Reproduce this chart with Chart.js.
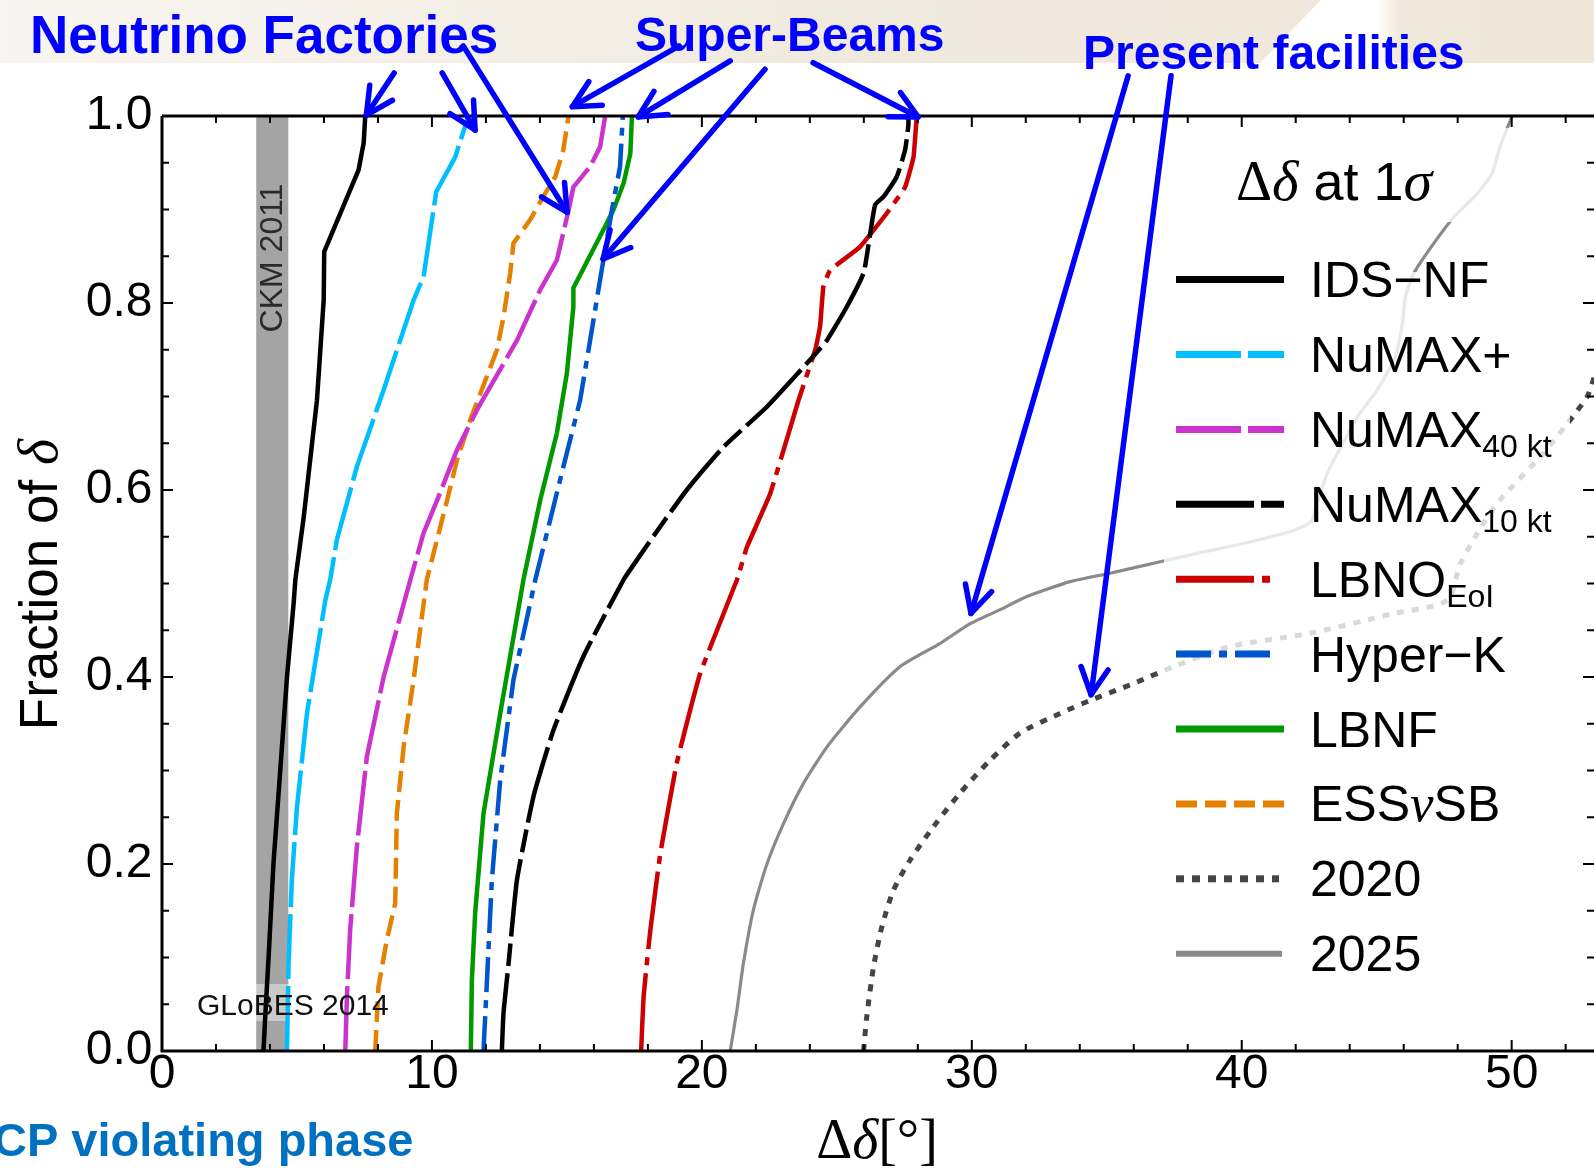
<!DOCTYPE html>
<html><head><meta charset="utf-8">
<script src="https://cdn.jsdelivr.net/npm/chart.js@4.4.1/dist/chart.umd.min.js"></script>
<style>html,body{margin:0;padding:0;background:#fff;overflow:hidden}canvas{display:block}</style>
</head><body>
<canvas id="c" width="1594" height="1168" style="width:1594px;height:1168px"></canvas>
<script>
// ---------------- data ----------------
const idsnfX = [3.76, 3.83, 3.95, 4.13, 4.38, 4.63, 4.88, 4.94, 5.25, 5.74, 5.99, 6.01, 7.28, 7.47, 7.53];
const idsnfY = [0, 0.04, 0.101, 0.201, 0.300, 0.400, 0.48, 0.504, 0.571, 0.696, 0.803, 0.855, 0.942, 0.971, 1.0];

const numaxPlusX = [4.63, 4.69, 4.81, 5.0, 5.37, 6.05, 6.23, 6.48, 7.22, 8.21, 9.32, 9.69, 10.06, 10.16, 10.86, 11.35];
const numaxPlusY = [0, 0.094, 0.183, 0.261, 0.361, 0.482, 0.504, 0.547, 0.625, 0.707, 0.803, 0.828, 0.9, 0.919, 0.956, 1.0];

const numax40X = [6.79, 6.85, 6.97, 7.22, 7.59, 8.21, 9.2, 9.69, 10.19, 10.93, 11.73, 12.65, 13.15, 14.01, 14.63, 15.06, 15.24, 15.86, 16.23, 16.42];
const numax40Y = [0, 0.058, 0.129, 0.219, 0.315, 0.4, 0.504, 0.554, 0.589, 0.643, 0.689, 0.735, 0.760, 0.814, 0.846, 0.899, 0.924, 0.946, 0.967, 1.0];

const numax10X = [12.59, 12.65, 12.84, 13.15, 13.76, 14.5, 15.61, 17.1, 17.59, 18.46, 19.44, 20.8, 22.41, 24.13, 24.63, 25.37, 25.99, 26.2, 26.42, 26.74, 27.22, 27.53, 27.65, 27.65];
const numax10Y = [0, 0.04, 0.094, 0.183, 0.272, 0.343, 0.422, 0.504, 0.525, 0.561, 0.6, 0.646, 0.689, 0.743, 0.760, 0.796, 0.832, 0.867, 0.905, 0.914, 0.935, 0.964, 0.99, 1.0];

const lbnoX = [17.75, 17.84, 18.09, 18.46, 19.07, 19.94, 21.3, 21.67, 22.53, 23.58, 24.2, 24.38, 24.5, 24.75, 25.86, 26.85, 27.53, 27.84, 27.96];
const lbnoY = [0, 0.058, 0.129, 0.211, 0.308, 0.404, 0.504, 0.539, 0.596, 0.696, 0.75, 0.775, 0.817, 0.835, 0.86, 0.896, 0.924, 0.956, 1.0];

const hyperkX = [11.91, 12.04, 12.22, 12.53, 13.02, 13.83, 14.26, 14.87, 15.49, 15.86, 16.23, 16.67, 16.97, 17.07];
const hyperkY = [0, 0.076, 0.183, 0.29, 0.397, 0.504, 0.554, 0.625, 0.696, 0.760, 0.825, 0.9, 0.946, 1.0];

const lbnfX = [11.44, 11.48, 11.6, 11.91, 12.53, 13.39, 14.01, 14.63, 15.0, 15.24, 15.24, 16.42, 16.73, 17.1, 17.35, 17.41];
const lbnfY = [0, 0.076, 0.147, 0.254, 0.361, 0.504, 0.589, 0.661, 0.725, 0.796, 0.816, 0.882, 0.9, 0.928, 0.96, 1.0];

const esssbX = [7.9, 8.02, 8.33, 8.64, 8.7, 8.95, 9.32, 9.81, 10.19, 10.56, 10.93, 11.42, 11.79, 12.41, 12.65, 12.9, 13.02, 13.64, 14.13, 14.57, 14.87, 15.06];
const esssbY = [0, 0.069, 0.119, 0.158, 0.254, 0.325, 0.397, 0.504, 0.547, 0.589, 0.632, 0.675, 0.703, 0.75, 0.785, 0.832, 0.864, 0.889, 0.914, 0.935, 0.964, 1.0];

const y2020X = [25.99, 26.11, 26.36, 26.67, 27.1, 27.71, 28.58, 29.57, 30.68, 31.79, 33.27, 34.39, 35.99, 37.47, 39.47, 42.56, 45.64, 47.61, 48.11, 48.97, 49.59, 51.07, 52.06, 52.8, 53.05];
const y2020Y = [0, 0.037, 0.09, 0.133, 0.172, 0.204, 0.24, 0.276, 0.311, 0.34, 0.361, 0.375, 0.393, 0.411, 0.432, 0.447, 0.468, 0.482, 0.522, 0.565, 0.59, 0.636, 0.671, 0.70, 0.72];

const y2025X = [21.05, 21.3, 21.54, 21.91, 22.41, 23.02, 23.76, 24.63, 25.86, 27.34, 28.83, 29.94, 31.05, 32.04, 33.64, 35.12, 37.1, 38.47, 40.09, 41.94, 42.56, 42.8, 43.17, 43.67, 44.28, 45.02, 45.7, 45.95, 46.07, 46.38, 47.12, 47.86, 48.73, 49.28, 49.53, 49.78, 50.02];
const y2025Y = [0, 0.044, 0.094, 0.151, 0.2, 0.243, 0.286, 0.325, 0.368, 0.411, 0.436, 0.457, 0.472, 0.486, 0.502, 0.511, 0.524, 0.533, 0.543, 0.557, 0.566, 0.586, 0.618, 0.646, 0.678, 0.707, 0.743, 0.778, 0.807, 0.832, 0.864, 0.892, 0.917, 0.939, 0.964, 0.983, 1.0];

const seriesLabels = ['IDS−NF', 'NuMAX+', 'NuMAX 40 kt', 'NuMAX 10 kt', 'LBNO EoI', 'Hyper−K', 'LBNF', 'ESSνSB', '2020', '2025'];
const legendMain = ['IDS−NF', 'NuMAX+', 'NuMAX', 'NuMAX', 'LBNO', 'Hyper−K', 'LBNF', 'ESSνSB', '2020', '2025'];
const legendSub  = ['', '', '40 kt', '10 kt', 'EoI', '', '', '', '', ''];

const xMin = 0, xMax = 53.05, yMin = 0, yMax = 1;
const xMinorStep = 2, xMajorStep = 10, yMinorStep = 0.05, yMajorStep = 0.2;
const ckmBand = [3.49, 4.68];
// arrows: [tailX, tailY, tipX, tipY] in data units
const arrowsData = [
  [8.60, 1.046, 7.57, 1.001], [10.38, 1.046, 11.60, 0.985], [11.16, 1.075, 15.01, 0.897],
  [19.16, 1.075, 15.20, 1.010], [21.05, 1.059, 17.64, 0.999], [22.34, 1.050, 16.34, 0.847],
  [24.12, 1.057, 28.01, 0.999], [35.79, 1.043, 29.97, 0.468], [37.38, 1.043, 34.42, 0.381]
];

// ---------------- styles ----------------
const SANS = '"Liberation Sans", Arial, Helvetica, sans-serif';
const SERIF = '"Liberation Serif", "Times New Roman", serif';
const styles = [
  {color:'#000000', width:4.5, dash:[], tension:0},
  {color:'#00BFFF', width:4.5, dash:[65,7], tension:0},
  {color:'#CC33CC', width:4.5, dash:[65,7], tension:0},
  {color:'#000000', width:4.5, dash:[78,7,23,7], tension:0.15},
  {color:'#CC0000', width:4.5, dash:[78,8,8,8], tension:0.1},
  {color:'#0055CC', width:4.5, dash:[35,8,8,8], tension:0},
  {color:'#009900', width:4.5, dash:[], tension:0},
  {color:'#E68000', width:4.5, dash:[21,8], tension:0},
  {color:'#444444', width:5, dash:[7,8], tension:0.25},
  {color:'#8A8A8A', width:3.2, dash:[], tension:0.2}
];
const legendSampleEnd = [1284,1284,1284,1284,1271,1271,1284,1284,1279,1282];

function pts(xs, ys){ return xs.map((x,i)=>({x:x, y:ys[i]})); }
const seriesData = [
  pts(idsnfX, idsnfY), pts(numaxPlusX, numaxPlusY), pts(numax40X, numax40Y), pts(numax10X, numax10Y),
  pts(lbnoX, lbnoY), pts(hyperkX, hyperkY), pts(lbnfX, lbnfY), pts(esssbX, esssbY),
  pts(y2020X, y2020Y), pts(y2025X, y2025Y)
];

const datasets = seriesData.map((d,i)=>({
  label: seriesLabels[i], data: d, borderColor: styles[i].color, backgroundColor: styles[i].color,
  borderWidth: styles[i].width, borderDash: styles[i].dash, borderCapStyle:'butt', borderJoinStyle:'round',
  pointRadius:0, pointHoverRadius:0, fill:false, tension:styles[i].tension, showLine:true
}));

// ---------------- helpers ----------------
function richWidth(ctx, segs){ let w=0; for(const s of segs){ ctx.font=s.f; w+=ctx.measureText(s.t).width; } return w; }
function drawRich(ctx, segs, x, y, align){
  let cx = x; const w = richWidth(ctx, segs);
  if (align==='center') cx = x - w/2;
  ctx.textAlign='left'; ctx.textBaseline='alphabetic';
  for(const s of segs){ ctx.font=s.f; ctx.fillText(s.t, cx, y + (s.dy||0)); cx += ctx.measureText(s.t).width; }
}
function arrow(ctx, x1,y1,x2,y2){
  ctx.beginPath(); ctx.moveTo(x1,y1); ctx.lineTo(x2,y2); ctx.stroke();
  const ang = Math.atan2(y1-y2, x1-x2), L=30, h=0.47;
  ctx.beginPath();
  ctx.moveTo(x2 + L*Math.cos(ang+h), y2 + L*Math.sin(ang+h));
  ctx.lineTo(x2,y2);
  ctx.lineTo(x2 + L*Math.cos(ang-h), y2 + L*Math.sin(ang-h));
  ctx.stroke();
}

const decor = {
  id:'decor',
  beforeDraw(chart){
    const ctx = chart.ctx; const W = chart.width;
    ctx.save();
    ctx.fillStyle='#ffffff'; ctx.fillRect(0,0,W,chart.height);
    const g = ctx.createLinearGradient(0,0,W,0);
    g.addColorStop(0,'#f8f6f2'); g.addColorStop(0.55,'#f0e9dd'); g.addColorStop(1,'#efe7da');
    ctx.fillStyle=g; ctx.fillRect(0,0,W,63);
    const g2 = ctx.createLinearGradient(1340,0,1400,0);
    g2.addColorStop(0,'#ffffff'); g2.addColorStop(0.6,'#ffffff'); g2.addColorStop(1,'rgba(255,255,255,0)');
    ctx.fillStyle=g2;
    ctx.beginPath(); ctx.moveTo(1260,63); ctx.lineTo(1321,0); ctx.lineTo(1400,0); ctx.lineTo(1400,63); ctx.closePath(); ctx.fill();
    ctx.restore();
  },
  beforeDatasetsDraw(chart){
    const {ctx, chartArea:a, scales:{x}} = chart;
    ctx.save();
    const x1 = x.getPixelForValue(ckmBand[0]), x2 = x.getPixelForValue(ckmBand[1]);
    ctx.fillStyle='#a4a4a4'; ctx.fillRect(x1, a.top, x2-x1, a.bottom-a.top);
    ctx.fillStyle='rgba(255,255,255,0.42)'; ctx.fillRect(192, 984, 200, 37);
    ctx.restore();
  },
  afterDatasetsDraw(chart){
    const {ctx, chartArea:a, scales:{x, y}} = chart;
    ctx.save();
    // CKM label
    ctx.save();
    ctx.translate((x.getPixelForValue(ckmBand[0])+x.getPixelForValue(ckmBand[1]))/2 + 1, 258);
    ctx.rotate(-Math.PI/2);
    ctx.fillStyle='#2a2a2a'; ctx.font='32px '+SANS; ctx.textAlign='center'; ctx.textBaseline='middle';
    ctx.fillText('CKM 2011', 0, 0);
    ctx.restore();
    // GLoBES label
    ctx.fillStyle='#111'; ctx.font='30px '+SANS; ctx.textAlign='left'; ctx.textBaseline='alphabetic';
    ctx.fillText('GLoBES 2014', 197, 1015);
    // legend translucent boxes
    ctx.fillStyle='rgba(255,255,255,0.8)';
    ctx.fillRect(1164, 128, 406, 94);
    ctx.fillRect(1164, 272, 406, 715);
    // legend title
    ctx.fillStyle='#000';
    drawRich(ctx, [{t:'Δ', f:'56px '+SERIF},{t:'δ', f:'italic 57px '+SERIF},{t:' at 1', f:'54px '+SANS},{t:'σ', f:'italic 58px '+SERIF}], 1236, 200, 'left');
    // legend entries
    for (let i=0;i<legendMain.length;i++){
      const cy = 279.6 + i*74.9;
      const st = styles[i];
      ctx.save();
      ctx.strokeStyle = st.color; ctx.lineWidth = (i===9)?6:7; ctx.lineCap='butt';
      ctx.setLineDash(st.dash.length? (i===8?[8,8]:st.dash) : []);
      ctx.beginPath(); ctx.moveTo(1176, cy); ctx.lineTo(legendSampleEnd[i], cy); ctx.stroke();
      ctx.restore();
      ctx.fillStyle='#000';
      const segs = [];
      const parts = legendMain[i].split('ν');
      parts.forEach((p,k)=>{ if(k>0) segs.push({t:'ν', f:'italic 53px '+SERIF}); if(p) segs.push({t:p, f:'50px '+SANS}); });
      if (legendSub[i]) segs.push({t:legendSub[i], f:'32px '+SANS, dy:10});
      drawRich(ctx, segs, 1310, cy+17.5, 'left');
    }
    // frame + inward ticks
    ctx.strokeStyle='#000'; ctx.lineWidth=2; ctx.setLineDash([]);
    const nx = Math.floor((xMax-xMin)/xMinorStep+1e-9);
    for (let i=0;i<=nx;i++){
      const v = xMin + i*xMinorStep; const px = x.getPixelForValue(v);
      const major = Math.abs(v/xMajorStep - Math.round(v/xMajorStep))<1e-6; const L = major?11:7;
      ctx.beginPath(); ctx.moveTo(px,a.bottom); ctx.lineTo(px,a.bottom-L); ctx.moveTo(px,a.top); ctx.lineTo(px,a.top+L); ctx.stroke();
    }
    const ny = Math.round((yMax-yMin)/yMinorStep);
    for (let i=0;i<=ny;i++){
      const v = yMin + i*yMinorStep; const py = y.getPixelForValue(v);
      const major = Math.abs(v/yMajorStep - Math.round(v/yMajorStep))<1e-6; const L = major?11:7;
      ctx.beginPath(); ctx.moveTo(a.left,py); ctx.lineTo(a.left+L,py); ctx.moveTo(a.right,py); ctx.lineTo(a.right-L,py); ctx.stroke();
    }
    ctx.lineWidth=3;
    ctx.beginPath(); ctx.moveTo(a.left,a.top); ctx.lineTo(a.right,a.top); ctx.moveTo(a.left,a.top); ctx.lineTo(a.left,a.bottom); ctx.lineTo(a.right,a.bottom); ctx.stroke();
    ctx.restore();
  },
  afterDraw(chart){
    const {ctx, scales:{x, y}} = chart;
    ctx.save();
    ctx.fillStyle='#000';
    // axis titles
    ctx.save(); ctx.translate(57, 584.6); ctx.rotate(-Math.PI/2);
    drawRich(ctx, [{t:'Fraction of ', f:'53px '+SANS},{t:'δ', f:'italic 56px '+SERIF}], 0, 0, 'center');
    ctx.restore();
    drawRich(ctx, [{t:'Δ', f:'56px '+SERIF},{t:'δ', f:'italic 56px '+SERIF},{t:'[°]', f:'56px '+SERIF}], 877, 1158, 'center');
    // annotations
    ctx.fillStyle='#0000FF'; ctx.textAlign='left'; ctx.textBaseline='alphabetic';
    ctx.font='bold 53px '+SANS; ctx.fillText('Neutrino Factories', 30, 53);
    ctx.font='bold 48px '+SANS; ctx.fillText('Super-Beams', 635, 51);
    ctx.font='bold 48px '+SANS; ctx.fillText('Present facilities', 1083, 69);
    ctx.fillStyle='#0070C0'; ctx.font='bold 47px '+SANS; ctx.fillText('CP violating phase', -7, 1156);
    // arrows
    ctx.strokeStyle='#0000FF'; ctx.lineWidth=5.5; ctx.lineCap='round'; ctx.lineJoin='round';
    for (const r of arrowsData){
      arrow(ctx, x.getPixelForValue(r[0]), y.getPixelForValue(r[1]), x.getPixelForValue(r[2]), y.getPixelForValue(r[3]));
    }
    ctx.restore();
  }
};

new Chart(document.getElementById('c'), {
  type:'line',
  data:{ datasets: datasets },
  options:{
    responsive:false, animation:false, devicePixelRatio:1,
    layout:{ padding:{ top:116, right:0, left:0, bottom:0 } },
    plugins:{ legend:{display:false}, tooltip:{enabled:false}, title:{display:false} },
    events:[],
    scales:{
      x:{ type:'linear', min:xMin, max:xMax,
        grid:{display:false, drawTicks:false}, border:{display:false},
        ticks:{ stepSize:xMinorStep, autoSkip:false, maxRotation:0, includeBounds:false, padding:-5,
          color:'#000', font:{family:SANS, size:48},
          callback:(v)=> (Math.abs(v/xMajorStep - Math.round(v/xMajorStep))<1e-6 ? String(Math.round(v)) : '') },
        afterFit:(s)=>{ s.height = 117; } },
      y:{ type:'linear', min:yMin, max:yMax,
        grid:{display:false, drawTicks:false}, border:{display:false},
        ticks:{ stepSize:yMinorStep, autoSkip:false, includeBounds:false, padding:9.5,
          color:'#000', font:{family:SANS, size:48},
          callback:(v)=> (Math.abs(v/yMajorStep - Math.round(v/yMajorStep))<1e-6 ? Number(v).toFixed(1) : '') },
        afterFit:(s)=>{ s.width = 162; } }
    }
  },
  plugins:[decor]
});
</script>
</body></html>
